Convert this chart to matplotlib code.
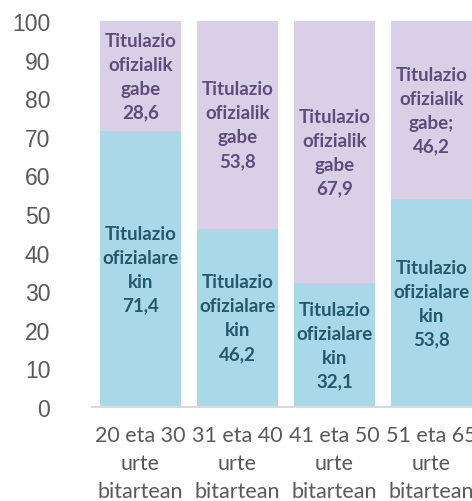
import matplotlib.pyplot as plt

# Data
groups = ["20 eta 30\nurte\nbitartean", "31 eta 40\nurte\nbitartean",
          "41 eta 50\nurte\nbitartean", "51 eta 65\nurte\nbitartean"]
with_title = [71.4, 46.2, 32.1, 53.8]
without_title = [28.6, 53.8, 67.9, 46.2]
with_labels = ["Titulazio\nofizialare\nkin\n71,4", "Titulazio\nofizialare\nkin\n46,2",
               "Titulazio\nofizialare\nkin\n32,1", "Titulazio\nofizialare\nkin\n53,8"]
without_labels = ["Titulazio\nofizialik\ngabe\n28,6", "Titulazio\nofizialik\ngabe\n53,8",
                  "Titulazio\nofizialik\ngabe\n67,9", "Titulazio\nofizialik\ngabe;\n46,2"]

blue = "#a9d9e8"
lilac = "#d9d0e7"

fig = plt.figure(figsize=(4.72, 5.02), dpi=100)
# axes run past the right edge, the original is cropped there
ax = fig.add_axes([92 / 472, 94 / 502, 388 / 472, 386 / 502])

x = range(len(groups))
ax.bar(x, with_title, width=0.835, color=blue)
ax.bar(x, without_title, bottom=with_title, width=0.835, color=lilac)

for i in x:
    ax.text(i, with_title[i] / 2, with_labels[i], ha="center", va="center",
            fontsize=13.5, fontweight="bold", color="#22596b", family="Lato",
            linespacing=1.5)
    ax.text(i, with_title[i] + without_title[i] / 2, without_labels[i],
            ha="center", va="center", fontsize=13.5, fontweight="bold",
            color="#5e4c7c", family="Lato", linespacing=1.5)

ax.set_xlim(-0.5, 3.5)
ax.set_ylim(0, 100)
ax.set_yticks(range(0, 101, 10))
ax.set_xticks(list(x))
ax.set_xticklabels(groups, family="Lato", fontsize=15.5, color="#595959",
                   linespacing=1.5)
for lab in ax.get_yticklabels():
    lab.set_family("Liberation Sans")
    lab.set_fontsize(16.5)
    lab.set_color("#595959")
ax.tick_params(axis="y", length=0, pad=30)
ax.tick_params(axis="x", length=0, pad=13)

for s in ["top", "right", "left"]:
    ax.spines[s].set_visible(False)
ax.spines["bottom"].set_color("#d9d9d9")
ax.spines["bottom"].set_linewidth(1.5)

fig.savefig("out.png", dpi=100)
